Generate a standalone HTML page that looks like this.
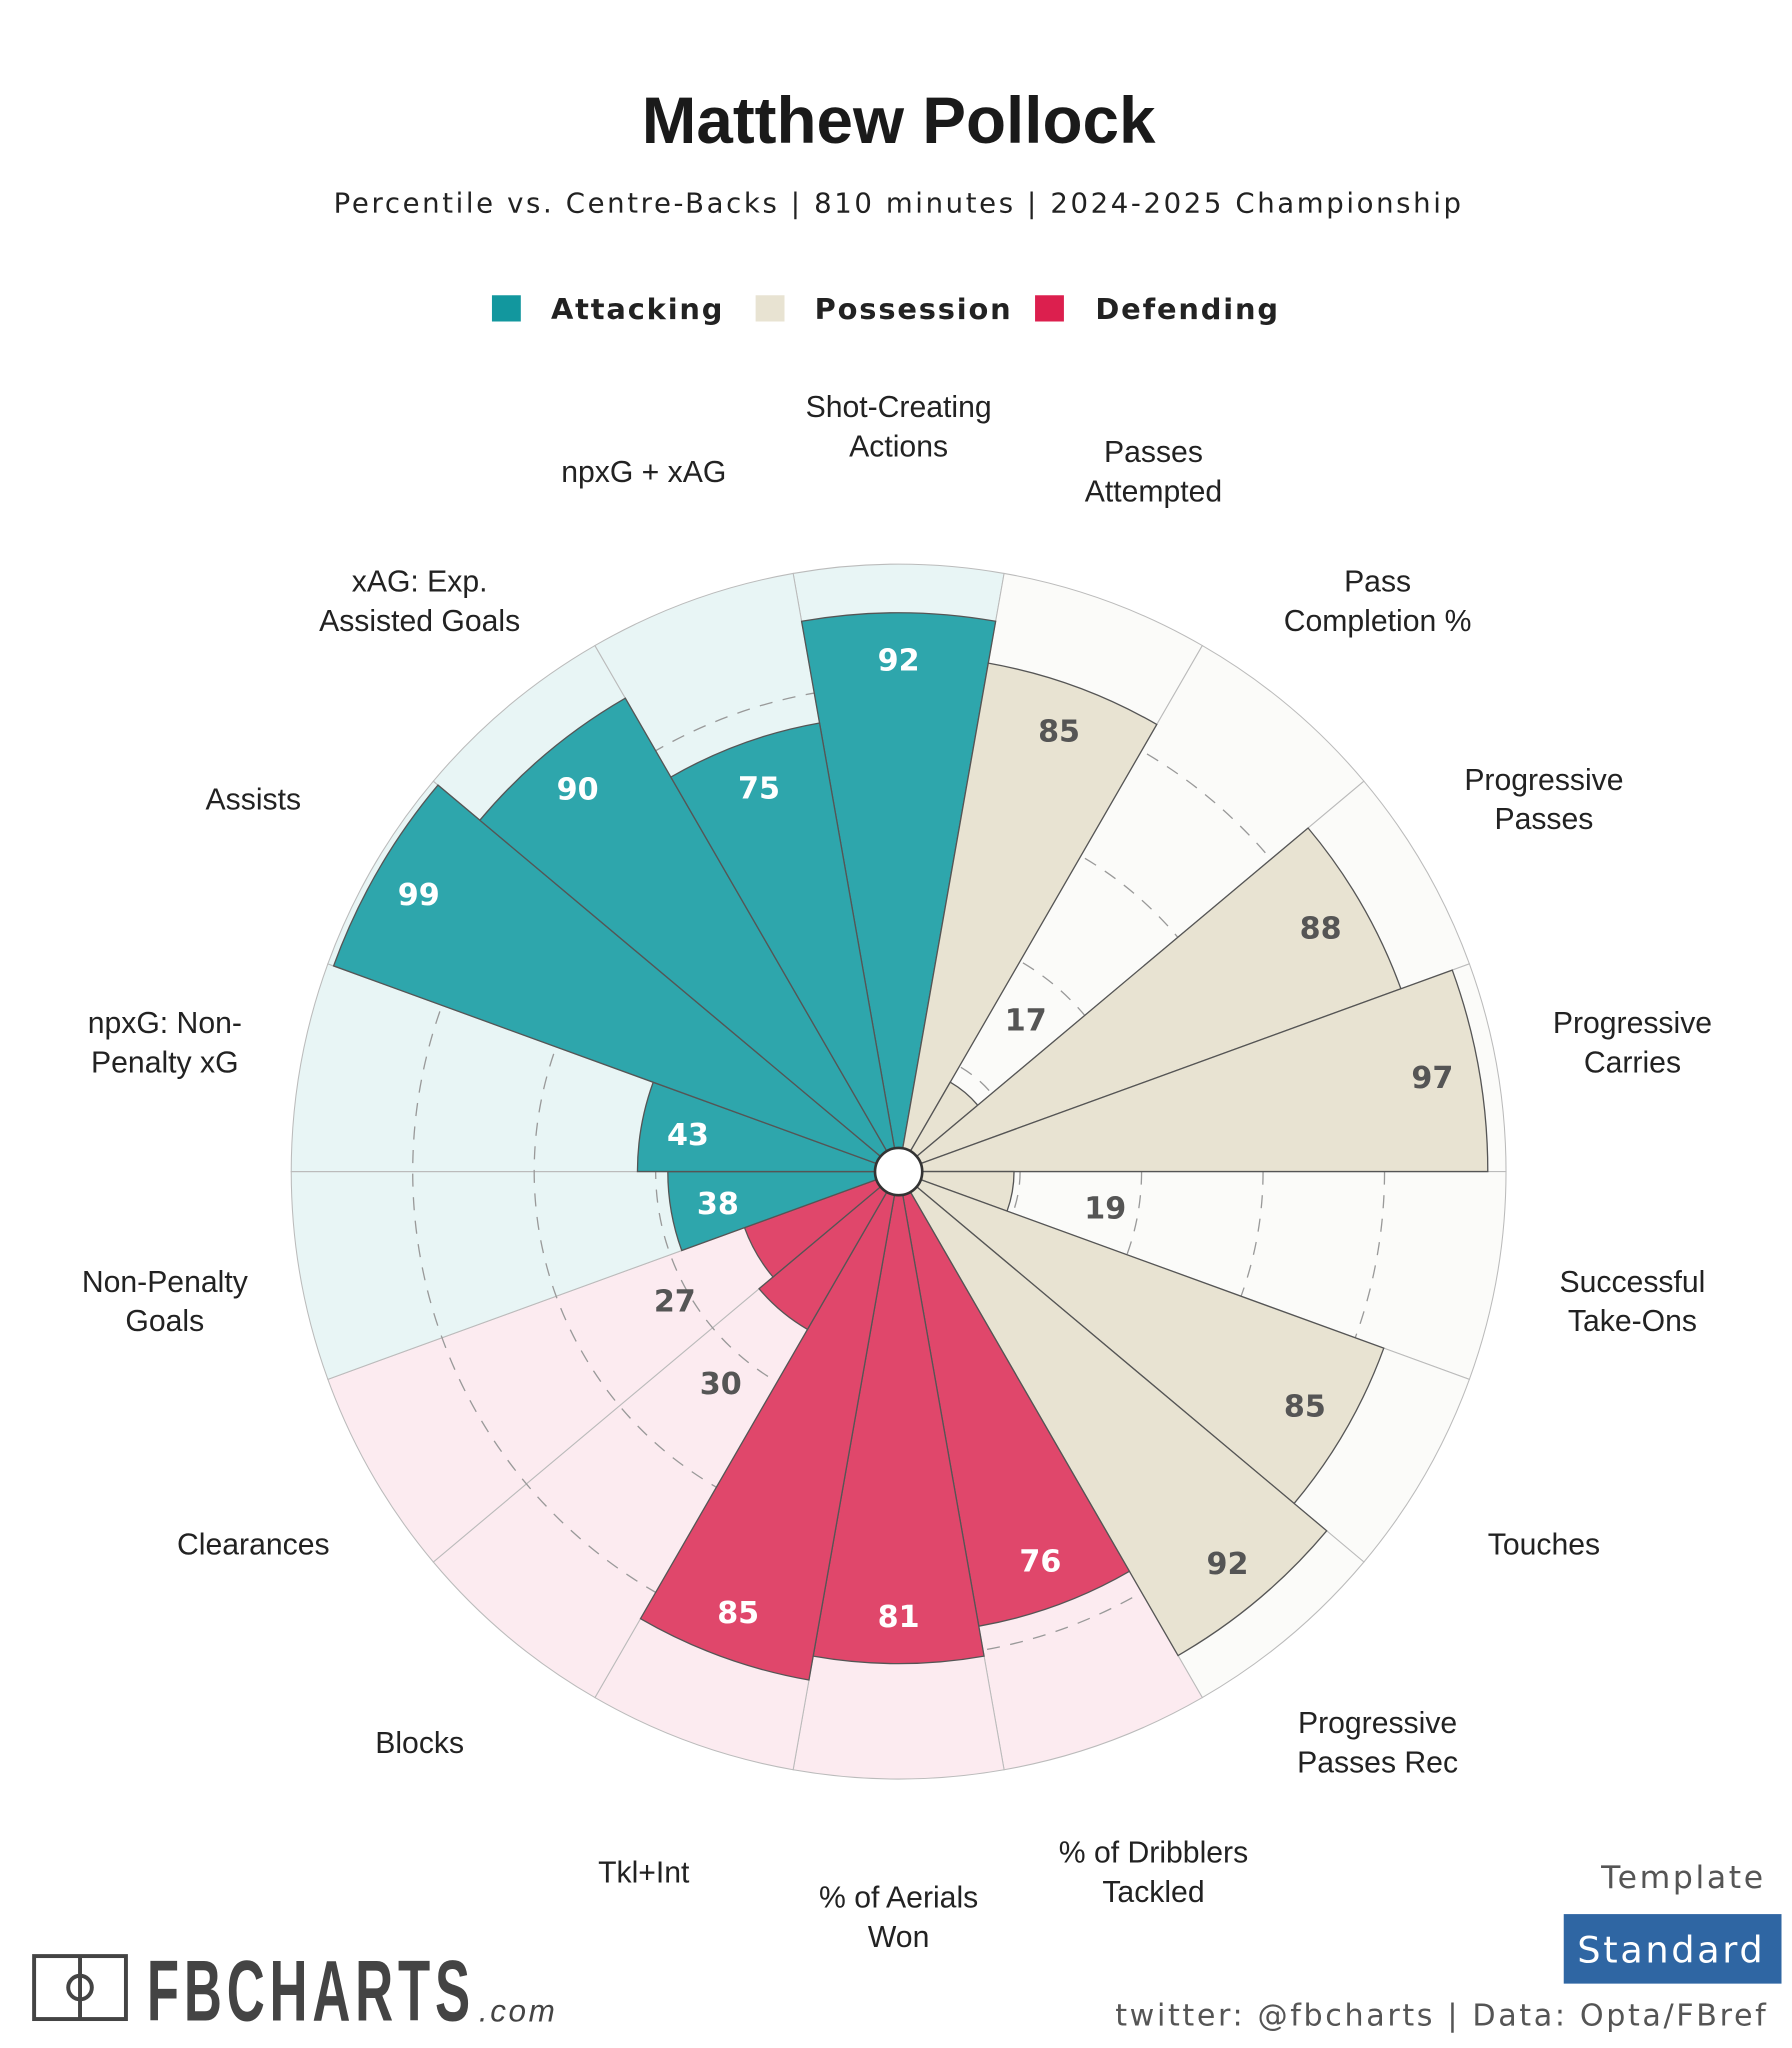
<!DOCTYPE html>
<html><head><meta charset="utf-8">
<style>
html,body{margin:0;padding:0;background:#fff;}
svg{display:block;}
</style></head>
<body>
<svg id="chart" width="1792" height="2048" viewBox="0 0 1366 1561" xmlns="http://www.w3.org/2000/svg" font-family="Liberation Sans, sans-serif">
<rect width="1366" height="1561" fill="#fff"/>
<text x="685" y="109" text-anchor="middle" font-size="50" font-weight="bold" fill="#1a1a1a">Matthew Pollock</text>
<text x="685" y="162" text-anchor="middle" font-size="21" font-family="DejaVu Sans, sans-serif" letter-spacing="2.0" fill="#222">Percentile vs. Centre-Backs | 810 minutes | 2024-2025 Championship</text>
<g font-family="DejaVu Sans, sans-serif" font-size="22" font-weight="bold" letter-spacing="1.4" fill="#222">
<rect x="375" y="225" width="22" height="20" fill="#12979e"/>
<text x="420" y="243">Attacking</text>
<rect x="576" y="225" width="22" height="20" fill="#e8e3d2"/>
<text x="621" y="243">Possession</text>
<rect x="789" y="225" width="22" height="20" fill="#dc1f4e"/>
<text x="835" y="243">Defending</text>
</g>
<g id="plot"></g>
<g>
<rect x="26" y="1491" width="70" height="48" fill="none" stroke="#444" stroke-width="3"/>
<line x1="61" y1="1491" x2="61" y2="1539" stroke="#444" stroke-width="3"/>
<circle cx="61" cy="1515" r="9" fill="none" stroke="#444" stroke-width="3"/>
<text x="112" y="1540" font-size="66" font-weight="bold" fill="#444" letter-spacing="6" textLength="250" lengthAdjust="spacingAndGlyphs">FBCHARTS</text>
<text x="365" y="1541" font-size="24" font-style="italic" fill="#444" letter-spacing="2">.com</text>
</g>
<text x="1346" y="1439" text-anchor="end" font-size="24" font-family="DejaVu Sans, sans-serif" letter-spacing="2" fill="#555">Template</text>
<rect x="1192" y="1459" width="166" height="53" fill="#2f66a3"/>
<text x="1274" y="1496" text-anchor="middle" font-size="28" font-family="DejaVu Sans, sans-serif" letter-spacing="2" fill="#fff">Standard</text>
<text x="1348" y="1544" text-anchor="end" font-size="23" font-family="DejaVu Sans, sans-serif" letter-spacing="2" fill="#555">twitter: @fbcharts | Data: Opta/FBref</text>
</svg>
<script>
const categories = ["Shot-Creating|Actions","Passes|Attempted","Pass|Completion %","Progressive|Passes","Progressive|Carries","Successful|Take-Ons","Touches","Progressive|Passes Rec","% of Dribblers|Tackled","% of Aerials|Won","Tkl+Int","Blocks","Clearances","Non-Penalty|Goals","npxG: Non-|Penalty xG","Assists","xAG: Exp.|Assisted Goals","npxG + xAG"];
const groups = ["att","pos","pos","pos","pos","pos","pos","pos","def","def","def","def","def","att","att","att","att","att"];
const values = [92,85,17,88,97,19,85,92,76,81,85,30,27,38,43,99,90,75];
const gridTicks = [20,40,60,80];

const NS = "http://www.w3.org/2000/svg";
const cx = 685, cy = 893, R = 463, labelR = 568;
const bgColor = {att:"#e8f5f5", pos:"#fbfbf9", def:"#fcebf0"};
const barColor = {att:"#2ea6ac", pos:"#e8e3d2", def:"#e0476b"};
const txtColor = {att:"#fff", pos:"#555", def:"#fff"};
const plot = document.getElementById("plot");
const n = categories.length, step = 360 / n;
function rScale(v){ return v / 100 * R; }
function pt(r, deg){ const a = deg * Math.PI / 180; return [cx + r * Math.sin(a), cy - r * Math.cos(a)]; }
function wedge(r, a0, a1){
  const p0 = pt(r, a0), p1 = pt(r, a1);
  return `M${cx},${cy}L${p0[0]},${p0[1]}A${r},${r} 0 0 1 ${p1[0]},${p1[1]}Z`;
}
function mk(tag, attrs){ const e = document.createElementNS(NS, tag); for (const k in attrs) e.setAttribute(k, attrs[k]); return e; }

categories.forEach((c, i) => {
  const a = i * step;
  const p = mk("path", {d: wedge(R, a - step/2, a + step/2), fill: bgColor[groups[i]], stroke: "#bbb", "stroke-width": 0.8});
  
  
  plot.appendChild(p);
});
gridTicks.forEach(t => {
  const c = mk("circle", {cx, cy, r: rScale(t), fill: "none", stroke: "#999", "stroke-width": 1, "stroke-dasharray": "10 8"});
  
  
  plot.appendChild(c);
});
categories.forEach((c, i) => {
  const a = i * step;
  const p = mk("path", {d: wedge(rScale(values[i]), a - step/2, a + step/2), fill: barColor[groups[i]], stroke: "#555", "stroke-width": 1});
  
  
  plot.appendChild(p);
});
const hole = mk("circle", {cx, cy, r: 18, fill: "#fff", stroke: "#333", "stroke-width": 2});


plot.appendChild(hole);
categories.forEach((c, i) => {
  const v = values[i];
  const small = v < 35;
  const r = small ? rScale(v) + 72 : rScale(v) - 36;
  const p = pt(r, i * step);
  const t = mk("text", {x: p[0], y: p[1] + 8, "text-anchor": "middle", "font-size": 23, "font-weight": "bold", "font-family": "DejaVu Sans, sans-serif", fill: small ? "#555" : txtColor[groups[i]]});
  t.textContent = v;
  
  
  plot.appendChild(t);
});
categories.forEach((c, i) => {
  const p = pt(labelR, i * step);
  const lines = c.split("|");
  const t = mk("text", {x: p[0], "text-anchor": "middle", "font-size": 23, fill: "#222"});
  const y0 = p[1] + 8 - (lines.length - 1) * 15;
  lines.forEach((l, j) => {
    const s = mk("tspan", {x: p[0], y: y0 + j * 30});
    s.textContent = l;
    t.appendChild(s);
  });
  
  
  plot.appendChild(t);
});
</script>
</body></html>
